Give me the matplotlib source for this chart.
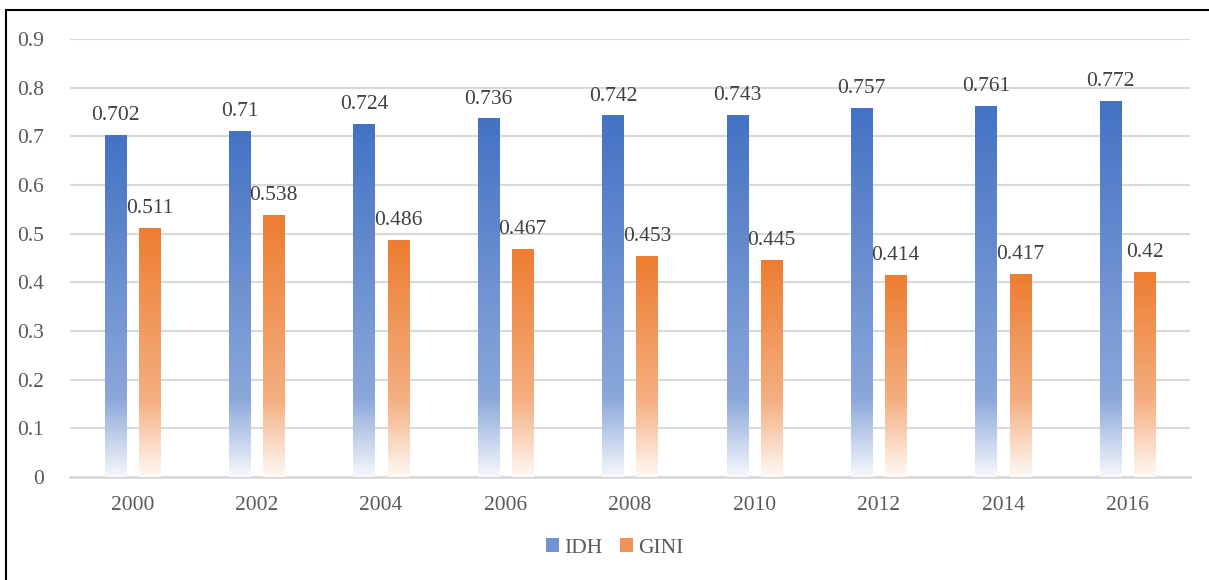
import matplotlib.pyplot as plt
import numpy as np
from matplotlib.colors import to_rgb
from matplotlib.lines import Line2D
from matplotlib.patches import Patch

# IDH vs GINI, every two years
years = ['2000', '2002', '2004', '2006', '2008', '2010', '2012', '2014', '2016']
idh = [0.702, 0.71, 0.724, 0.736, 0.742, 0.743, 0.757, 0.761, 0.772]
gini = [0.511, 0.538, 0.486, 0.467, 0.453, 0.445, 0.414, 0.417, 0.42]
y_ticks = [0, 0.1, 0.2, 0.3, 0.4, 0.5, 0.6, 0.7, 0.8, 0.9]
y_labels = ['0', '0.1', '0.2', '0.3', '0.4', '0.5', '0.6', '0.7', '0.8', '0.9']

BLUE = '#4472C4'
ORANGE = '#ED7D31'

plt.rcParams['font.family'] = ['Liberation Serif', 'DejaVu Serif']


def gradient_image(color, height, n=200):
    # full colour at top, fading to almost white near the bottom
    rgb = np.array(to_rgb(color))
    levels = np.linspace(0, height, n)
    knee = 0.16
    mix = np.where(levels > knee,
                   0.62 + 0.38 * (levels - knee) / max(height - knee, 1e-6),
                   0.05 + 0.57 * levels / knee)
    img = mix[:, None] * rgb[None, :] + (1 - mix[:, None]) * np.ones(3)[None, :]
    return img[:, None, :]


def gradient_bars(ax, x, values, width, color):
    bars = ax.bar(x, values, width, color='none', zorder=3)
    for bar, v in zip(bars, values):
        x0 = bar.get_x()
        ax.imshow(gradient_image(color, v), extent=[x0, x0 + width, 0, v],
                  origin='lower', aspect='auto', zorder=3, interpolation='bilinear')
        ax.annotate(str(v), (x0 + width / 2, v), xytext=(0, 11),
                    textcoords='offset points', ha='center', va='baseline',
                    fontsize=15.5, color='#404040', zorder=4)
    return bars


fig = plt.figure(figsize=(12.09, 5.8), dpi=100)
ax = fig.add_axes([0.058, 0.1776, 0.926, 0.7552])

x = np.arange(len(years))
w = 0.17
off = 0.137
gradient_bars(ax, x - off, idh, w, BLUE)
gradient_bars(ax, x + off, gini, w, ORANGE)

ax.set_xlim(-0.5, len(years) - 0.5)
ax.set_ylim(0, 0.9)
ax.set_yticks(y_ticks)
ax.set_yticklabels(y_labels)
ax.set_xticks(x)
ax.set_xticklabels(years)
ax.tick_params(length=0, labelsize=15.5, labelcolor='#595959')
ax.tick_params(axis='y', pad=19)
ax.tick_params(axis='x', pad=14)
ax.grid(axis='y', color='#D9D9D9', linewidth=1.5, zorder=0)
ax.set_axisbelow(True)
for s in ['top', 'right', 'left']:
    ax.spines[s].set_visible(False)
ax.spines['bottom'].set_color('#D9D9D9')
ax.spines['bottom'].set_linewidth(2)

handles = [Patch(facecolor='#6f93d3', label='IDH'),
           Patch(facecolor='#f0935a', label='GINI')]
fig.legend(handles=handles, loc='center', bbox_to_anchor=(615 / 1209, 1 - 548 / 580),
           ncol=2, frameon=False, fontsize=15.5, handlelength=0.6, handleheight=0.6,
           handletextpad=0.25, columnspacing=0.8, labelcolor='#595959')

# frame on the left and top edges
fig.add_artist(Line2D([6 / 1209, 6 / 1209], [0, 1 - 10 / 580], color='black', linewidth=1.5))
fig.add_artist(Line2D([6 / 1209, 1], [1 - 10 / 580, 1 - 10 / 580], color='black', linewidth=1.5))

fig.savefig('out.png', dpi=100)
